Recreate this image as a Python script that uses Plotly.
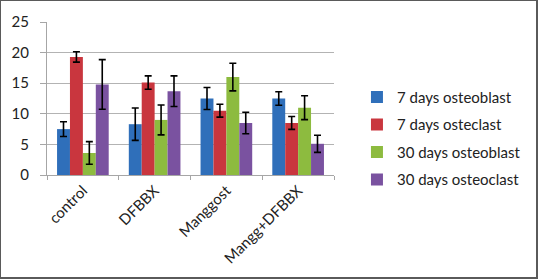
import plotly.graph_objects as go

groups = ["control", "DFBBX", "Manggost", "Mangg+DFBBX"]

series_names = ["7 days osteoblast", "7 days osteclast", "30 days osteoblast", "30 days osteoclast"]
series_colors = ["#2f6fba", "#c9363e", "#8dbb3f", "#7a52a0"]

osteoblast_7 = [7.5, 8.3, 12.5, 12.5]
osteoblast_7_err = [1.2, 2.65, 1.8, 1.1]
osteclast_7 = [19.3, 15.1, 10.5, 8.5]
osteclast_7_err = [0.85, 1.1, 1.05, 1.05]
osteoblast_30 = [3.6, 9.0, 16.0, 11.0]
osteoblast_30_err = [1.85, 2.45, 2.25, 1.95]
osteoclast_30 = [14.8, 13.7, 8.5, 5.1]
osteoclast_30_err = [4.05, 2.5, 1.75, 1.4]

values = [osteoblast_7, osteclast_7, osteoblast_30, osteoclast_30]
errors = [osteoblast_7_err, osteclast_7_err, osteoblast_30_err, osteoclast_30_err]

fig = go.Figure()

for name, col, vals, errs in zip(series_names, series_colors, values, errors):
    fig.add_trace(
        go.Bar(
            x=groups,
            y=vals,
            name=name,
            legendgroup=name,
            marker=dict(color=col, line=dict(width=0)),
            error_y=dict(type="data", array=errs, color="black", thickness=1.6, width=3.5)
        )
    )

# plot area in pixels: x 40..368, y 15..179
fig.update_layout(
    width=538,
    height=279,
    margin=dict(l=40, r=170, t=15, b=100),
    paper_bgcolor="white",
    plot_bgcolor="white",
    barmode="group",
    bargap=0.28,
    bargroupgap=0,
    font=dict(family="Lato, Open Sans, sans-serif", size=15, color="#222222"),
    legend=dict(
        x=1.08, xanchor="left",
        y=0.24, yanchor="middle",
        font=dict(size=15),
        tracegroupgap=5,
        itemwidth=30,
        bgcolor="rgba(0,0,0,0)"
    ),
    showlegend=True
)

fig.update_xaxes(
    tickangle=-45,
    showline=True,
    linecolor="#a6a6a6",
    linewidth=1,
    ticks="outside",
    tickson="boundaries",
    ticklen=4,
    tickcolor="#a6a6a6",
    showgrid=False,
    tickfont=dict(size=15)
)

fig.update_yaxes(
    range=[0, 25],
    dtick=5,
    showline=True,
    linecolor="#a6a6a6",
    linewidth=1,
    ticks="outside",
    ticklen=6,
    tickcolor="#a6a6a6",
    gridcolor="#b3b3b3",
    gridwidth=1,
    zeroline=False,
    ticklabelstandoff=8,
    tickfont=dict(size=15)
)

# grey frame round the whole picture: an overlay div on top of the svg
frame_js = (
    "document.body.style.margin='0';"
    "document.body.style.overflow='hidden';"
    "var f=document.createElement('div');"
    "f.style.cssText='position:fixed;left:0;top:0;width:538px;height:279px;"
    "box-sizing:border-box;border:2px solid #5a5a5a;border-top-width:1px;border-left-width:1px;"
    "pointer-events:none;z-index:9999;';"
    "document.body.appendChild(f);"
)

fig.write_html("out.html", post_script=frame_js, config={"displayModeBar": False})
